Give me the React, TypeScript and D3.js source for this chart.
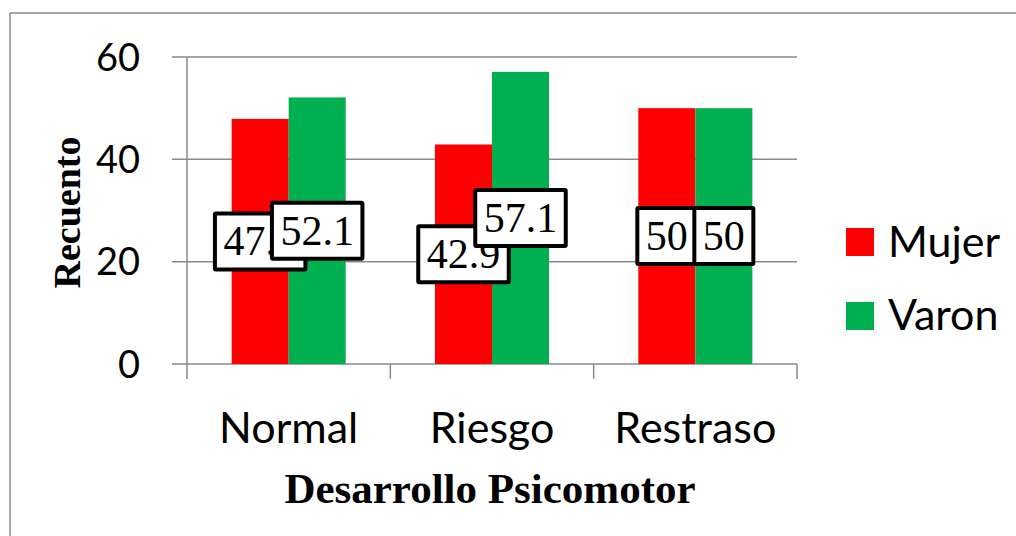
import React from "react";
import * as d3 from "d3";

const categories = ["Normal", "Riesgo", "Restraso"];
const seriesNames = ["Mujer", "Varon"];
const mujerValues = [47.9, 42.9, 50];
const varonValues = [52.1, 57.1, 50];
const labelTexts = [["47.9", "42.9", "50"], ["52.1", "57.1", "50"]];
const yTicks = [0, 20, 40, 60];
const colors = ["#FF0000", "#00B050"];

const W = 1016;
const H = 536;
const plot = { left: 187, right: 797, top: 57, bottom: 364 };
const gridColor = "#8a8a8a";

export default function App() {
  const y = d3.scaleLinear().domain([0, 60]).range([plot.bottom, plot.top]);
  const x0 = d3.scaleBand<string>().domain(categories).range([plot.left, plot.right]).padding(0);
  const x1 = d3.scaleBand<string>().domain(seriesNames).range([0, x0.bandwidth()]).paddingInner(0).paddingOuter(0.783);
  const series = [mujerValues, varonValues];
  const labelFont = 42;
  const textWidth = (s: string) =>
    s.split("").reduce((a, c) => a + (c === "." ? 0.25 : 0.5), 0) * labelFont;

  return (
    <svg width={W} height={H} style={{ position: "fixed", left: 0, top: 0, background: "#fff" }}>
      <rect x={0} y={0} width={W} height={H} fill="#fff" />
      {/* outer border */}
      <line x1={10} x2={10} y1={13} y2={H + 5} stroke={gridColor} strokeWidth={1.5} />
      <line x1={10} x2={W + 5} y1={13} y2={13} stroke={gridColor} strokeWidth={1.5} />
      {/* gridlines + y ticks */}
      {yTicks.map((t) => (
        <g key={t}>
          <line x1={plot.left - 15} x2={plot.right} y1={y(t)} y2={y(t)} stroke={gridColor} strokeWidth={1.5} />
          <text
            x={140}
            y={y(t) + 13.5}
            textAnchor="end"
            fontFamily="Lato"
            fontSize={38}
            fill="#000"
          >
            {t}
          </text>
        </g>
      ))}
      {/* y axis */}
      <line x1={plot.left} x2={plot.left} y1={plot.top} y2={plot.bottom} stroke={gridColor} strokeWidth={1.5} />
      {/* x ticks */}
      {[...categories.map((c) => x0(c) as number), plot.right].map((xv, i) => (
        <line key={i} x1={xv} x2={xv} y1={plot.bottom} y2={plot.bottom + 15} stroke={gridColor} strokeWidth={1.5} />
      ))}
      {/* bars */}
      {series.map((vals, si) =>
        vals.map((v, ci) => (
          <rect
            key={`${si}-${ci}`}
            x={(x0(categories[ci]) as number) + (x1(seriesNames[si]) as number)}
            y={y(v)}
            width={x1.bandwidth()}
            height={y(0) - y(v)}
            fill={colors[si]}
          />
        ))
      )}
      {/* data labels */}
      {series.map((vals, si) =>
        vals.map((v, ci) => {
          const cx = (x0(categories[ci]) as number) + (x1(seriesNames[si]) as number) + x1.bandwidth() / 2;
          const cy = (y(v) + y(0)) / 2;
          const txt = labelTexts[si][ci];
          const bw = textWidth(txt) + 21;
          const bh = 60;
          return (
            <g key={`l-${si}-${ci}`}>
              <rect
                x={cx - bw / 2 + 2}
                y={cy - bh / 2 + 2}
                width={bw - 4}
                height={bh - 4}
                fill="#fff"
                stroke="#000"
                strokeWidth={4}
                rx={1}
              />
              <text
                x={cx}
                y={cy + 14}
                textAnchor="middle"
                fontFamily="'Liberation Serif', 'Times New Roman', serif"
                fontSize={labelFont}
                fill="#000"
              >
                {txt}
              </text>
            </g>
          );
        })
      )}
      {/* category labels */}
      {categories.map((c) => (
        <text
          key={c}
          x={(x0(c) as number) + x0.bandwidth() / 2}
          y={443}
          textAnchor="middle"
          fontFamily="Lato"
          fontSize={43}
          fill="#000"
        >
          {c}
        </text>
      ))}
      {/* axis titles */}
      <text
        x={490}
        y={503}
        textAnchor="middle"
        fontFamily="'Liberation Serif', 'Times New Roman', serif"
        fontWeight="bold"
        fontSize={43}
        fill="#000"
      >
        Desarrollo Psicomotor
      </text>
      <text
        transform="translate(80,212.5) rotate(-90)"
        textAnchor="middle"
        fontFamily="'Liberation Serif', 'Times New Roman', serif"
        fontWeight="bold"
        fontSize={38}
        fill="#000"
      >
        Recuento
      </text>
      {/* legend */}
      {seriesNames.map((s, i) => (
        <g key={s}>
          <rect x={846} y={228 + i * 74} width={28} height={28} fill={colors[i]} />
          <text x={888} y={257 + i * 73} fontFamily="Lato" fontSize={43} fill="#000">
            {s}
          </text>
        </g>
      ))}
    </svg>
  );
}
